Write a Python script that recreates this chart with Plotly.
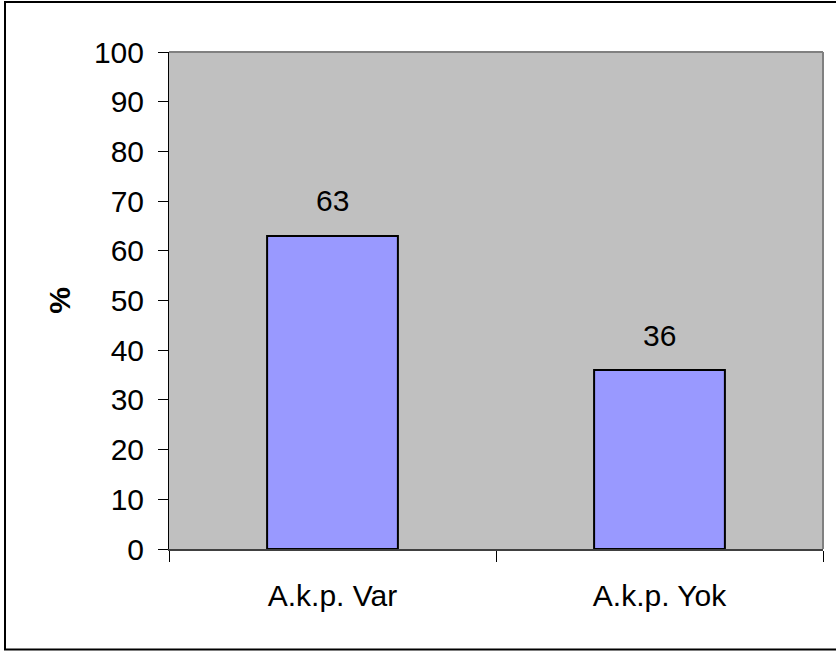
import plotly.graph_objects as go

# Chart data
categories = ["A.k.p. Var", "A.k.p. Yok"]
values = [63, 36]
y_ticks = list(range(0, 101, 10))

W, H = 836, 651
L, R, T, B = 169, 13, 52, 102
pw, ph = W - L - R, H - T - B

FONT = "Liberation Sans, Arial, sans-serif"
FS = 30


def px_x(x):
    return (x - L) / pw


def px_y(y):
    return (H - B - y) / ph


fig = go.Figure()
fig.add_trace(go.Bar(
    x=categories,
    y=values,
    width=0.40,
    marker=dict(color="#9999FF", line=dict(color="black", width=2)),
    hoverinfo="x+y",
))

# value labels above each bar
for c, v in zip(categories, values):
    fig.add_annotation(
        x=c, y=v, text=str(v), showarrow=False,
        yanchor="middle", yshift=35,
        font=dict(family=FONT, size=FS, color="black"),
    )

shapes = [
    # plot-area frame: top and right edges
    dict(type="line", xref="paper", yref="paper", x0=0, x1=1, y0=1, y1=1,
         line=dict(color="#808080", width=2)),
    dict(type="line", xref="paper", yref="paper", x0=1, x1=1, y0=0, y1=1,
         line=dict(color="#808080", width=2)),
    # outer chart border
    dict(type="rect", xref="paper", yref="paper",
         x0=px_x(5), x1=px_x(845), y0=px_y(649.5), y1=px_y(2),
         line=dict(color="black", width=2), fillcolor="rgba(0,0,0,0)"),
]

fig.update_layout(
    width=W, height=H,
    margin=dict(l=L, r=R, t=T, b=B, pad=0),
    paper_bgcolor="white",
    plot_bgcolor="#C0C0C0",
    showlegend=False,
    bargap=0.6,
    font=dict(family=FONT, size=FS, color="black"),
    shapes=shapes,
    xaxis=dict(
        type="category",
        showline=True, linecolor="#404040", linewidth=2,
        ticks="outside", ticklen=11, tickcolor="black", tickwidth=1,
        tickson="boundaries",
        tickfont=dict(family=FONT, size=FS, color="black"),
        ticklabelstandoff=19,
        showgrid=False, zeroline=False,
    ),
    yaxis=dict(
        range=[0, 100],
        tickvals=y_ticks,
        showline=True, linecolor="black", linewidth=1,
        ticks="outside", ticklen=10, tickcolor="black", tickwidth=1,
        tickfont=dict(family=FONT, size=FS, color="black"),
        ticklabelstandoff=8,
        showgrid=False, zeroline=False,
        title=dict(text="<b>%</b>", font=dict(family=FONT, size=FS, color="black"),
                   standoff=14),
    ),
)

fig.write_html("out.html")
